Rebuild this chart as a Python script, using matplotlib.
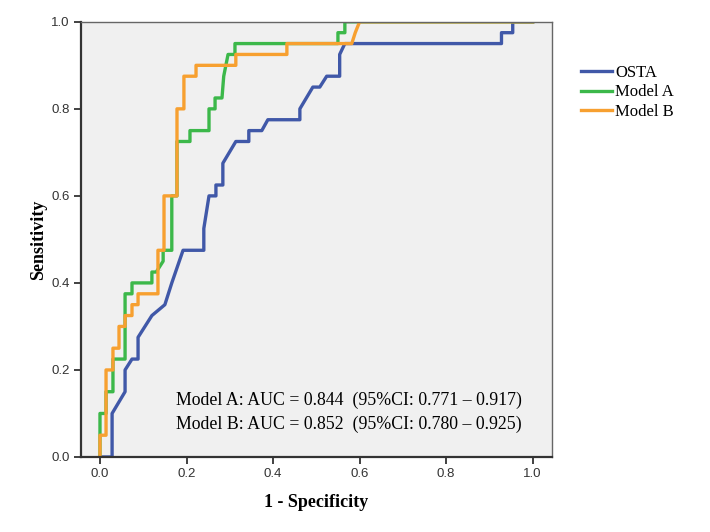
# ROC curves: OSTA vs Model A vs Model B
import matplotlib.pyplot as plt

# step points (1 - specificity, sensitivity)
osta_fpr = [0, 0.028, 0.028, 0.058, 0.058, 0.074, 0.088, 0.088, 0.12, 0.15, 0.166, 0.192,
            0.24, 0.24, 0.252, 0.268, 0.268, 0.284, 0.284, 0.314, 0.344, 0.344, 0.374,
            0.388, 0.462, 0.462, 0.492, 0.508, 0.524, 0.554, 0.554, 0.566, 0.928, 0.928,
            0.954, 0.954, 1.0]
osta_tpr = [0, 0, 0.1, 0.15, 0.2, 0.225, 0.225, 0.275, 0.325, 0.35, 0.4, 0.475,
            0.475, 0.525, 0.6, 0.6, 0.625, 0.625, 0.675, 0.725, 0.725, 0.75, 0.75,
            0.775, 0.775, 0.8, 0.85, 0.85, 0.875, 0.875, 0.925, 0.95, 0.95, 0.975,
            0.975, 1.0, 1.0]

a_fpr = [0, 0, 0.014, 0.014, 0.03, 0.03, 0.058, 0.058, 0.074, 0.074, 0.12, 0.12, 0.13,
         0.146, 0.146, 0.166, 0.166, 0.178, 0.178, 0.208, 0.208, 0.252, 0.252, 0.266,
         0.266, 0.282, 0.286, 0.291, 0.296, 0.312, 0.312, 0.55, 0.55, 0.566, 0.566, 1.0]
a_tpr = [0, 0.1, 0.1, 0.15, 0.15, 0.225, 0.225, 0.375, 0.375, 0.4, 0.4, 0.425, 0.425,
         0.45, 0.475, 0.475, 0.6, 0.6, 0.725, 0.725, 0.75, 0.75, 0.8, 0.8,
         0.825, 0.825, 0.875, 0.9, 0.925, 0.925, 0.95, 0.95, 0.975, 0.975, 1.0, 1.0]

b_fpr = [0, 0, 0.014, 0.014, 0.03, 0.03, 0.044, 0.044, 0.058, 0.058, 0.074, 0.074, 0.088,
         0.088, 0.134, 0.134, 0.148, 0.148, 0.178, 0.178, 0.194, 0.194, 0.222, 0.222,
         0.314, 0.314, 0.432, 0.432, 0.582, 0.59, 0.6, 1.0]
b_tpr = [0, 0.05, 0.05, 0.2, 0.2, 0.25, 0.25, 0.3, 0.3, 0.325, 0.325, 0.35, 0.35,
         0.375, 0.375, 0.475, 0.475, 0.6, 0.6, 0.8, 0.8, 0.875, 0.875, 0.9,
         0.9, 0.925, 0.925, 0.95, 0.95, 0.975, 1.0, 1.0]

labels = ['OSTA', 'Model A', 'Model B']
auc_text = ['Model A: AUC = 0.844  (95%CI: 0.771 \u2013 0.917)',
            'Model B: AUC = 0.852  (95%CI: 0.780 \u2013 0.925)']

colors = ['#4058a8', '#3cb84a', '#f7a030']

fig = plt.figure(figsize=(7.1, 5.32), dpi=100)
ax = fig.add_axes([0.114, 0.141, 0.663, 0.818])
ax.set_facecolor('#f0f0f0')

ax.plot(osta_fpr, osta_tpr, color=colors[0], lw=2.4, label=labels[0])
ax.plot(a_fpr, a_tpr, color=colors[1], lw=2.4, label=labels[1])
ax.plot(b_fpr, b_tpr, color=colors[2], lw=2.4, label=labels[2])

ax.set_xlim(-0.044, 1.044)
ax.set_ylim(0, 1)
ax.set_xticks([0, 0.2, 0.4, 0.6, 0.8, 1.0])
ax.set_yticks([0, 0.2, 0.4, 0.6, 0.8, 1.0])
ax.set_xticklabels(['0.0', '0.2', '0.4', '0.6', '0.8', '1.0'])
ax.set_yticklabels(['0.0', '0.2', '0.4', '0.6', '0.8', '1.0'])
ax.tick_params(direction='out', length=5, width=1.3, color='#333333',
               labelsize=9.5, labelcolor='#333333', pad=3)
for lab in ax.get_xticklabels() + ax.get_yticklabels():
    lab.set_family('Liberation Sans')

for side in ['left', 'bottom']:
    ax.spines[side].set_linewidth(1.6)
    ax.spines[side].set_color('#333333')
for side in ['top', 'right']:
    ax.spines[side].set_linewidth(1.0)
    ax.spines[side].set_color('#666666')

ax.set_xlabel('1 - Specificity', family='Liberation Serif', fontweight='bold',
              fontsize=13, labelpad=10)
ax.set_ylabel('Sensitivity', family='Liberation Serif', fontweight='bold',
              fontsize=13, labelpad=3)

ax.text(0.175, 0.13, auc_text[0], family='Liberation Serif', fontsize=12.8,
        va='center', ha='left')
ax.text(0.175, 0.075, auc_text[1], family='Liberation Serif', fontsize=12.8,
        va='center', ha='left')

ax.legend(loc='upper left', bbox_to_anchor=(1.03, 0.935), frameon=False,
          prop={'family': 'Liberation Serif', 'size': 12},
          handlelength=1.9, handletextpad=0.15, labelspacing=0.2)

plt.savefig('out.png', dpi=100)
